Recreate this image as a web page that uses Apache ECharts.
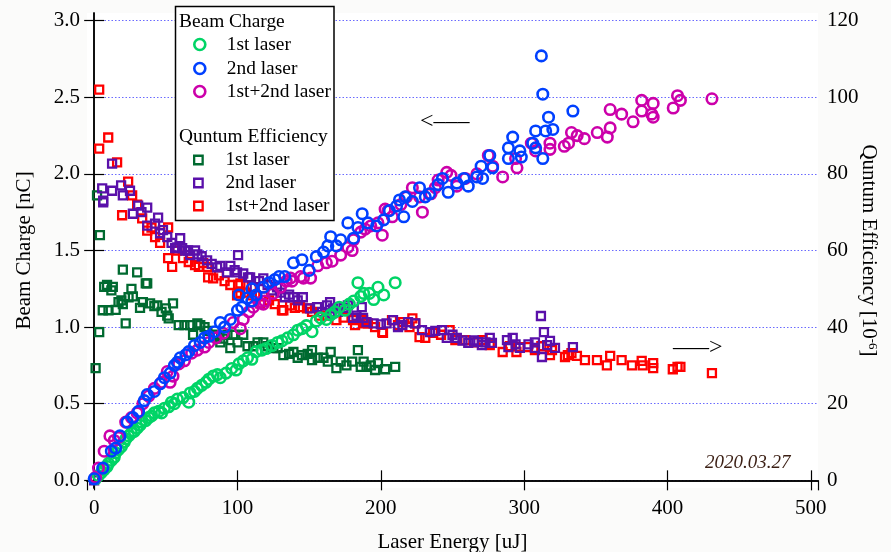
<!DOCTYPE html>
<html><head><meta charset="utf-8">
<script src="https://cdn.jsdelivr.net/npm/echarts@6/dist/echarts.min.js"></script>
<style>html,body{margin:0;padding:0;background:#fbfbfa}#c{width:891px;height:552px}</style>
</head><body><div id="c"></div>
<script>
// Beam charge [nC] vs laser energy [uJ]
const chargeLaser1 = [[1,0.01],[3,0.03],[5,0.05],[7,0.07],[9,0.09],[10,0.11],[12,0.13],[14,0.15],[15,0.18],[17,0.20],[19,0.22],[21,0.25],[22,0.27],[24,0.29],[26,0.31],[28,0.32],[30,0.34],[32,0.36],[33,0.38],[36,0.39],[38,0.41],[40,0.42],[42,0.44],[45,0.45],[47,0.44],[49,0.47],[52,0.48],[54,0.51],[56,0.50],[58,0.53],[62,0.54],[66,0.51],[67,0.57],[70,0.58],[72,0.60],[75,0.62],[78,0.64],[80,0.66],[83,0.68],[86,0.69],[88,0.67],[92,0.70],[96,0.73],[99,0.72],[101,0.76],[104,0.78],[107,0.80],[110,0.79],[113,0.84],[117,0.85],[120,0.86],[124,0.88],[128,0.90],[131,0.91],[135,0.93],[139,0.95],[142,0.98],[145,0.99],[148,1.01],[152,0.97],[155,1.04],[158,1.06],[162,1.05],[165,1.08],[168,1.10],[171,1.13],[175,1.11],[178,1.15],[181,1.17],[184,1.29],[186,1.20],[188,1.22],[192,1.22],[195,1.18],[198,1.26],[202,1.21],[210,1.29]];
const chargeLaser2 = [[0,0.01],[6,0.08],[12,0.19],[15,0.21],[18,0.29],[23,0.38],[27,0.41],[31,0.45],[35,0.52],[37,0.56],[42,0.58],[46,0.63],[49,0.67],[53,0.70],[56,0.75],[58,0.77],[60,0.80],[64,0.82],[66,0.84],[70,0.88],[74,0.90],[77,0.93],[80,0.94],[84,0.97],[88,1.03],[91,1.00],[95,1.05],[100,1.11],[101,1.21],[103,1.13],[107,1.19],[110,1.25],[110,1.17],[113,1.21],[118,1.26],[122,1.29],[126,1.31],[129,1.33],[133,1.33],[139,1.42],[145,1.44],[150,1.37],[155,1.46],[160,1.49],[163,1.53],[165,1.59],[169,1.53],[172,1.57],[177,1.68],[181,1.58],[184,1.65],[187,1.74],[191,1.68],[197,1.66],[202,1.70],[206,1.76],[211,1.79],[213,1.83],[216,1.72],[217,1.85],[222,1.82],[227,1.91],[231,1.85],[234,1.87],[240,1.93],[243,1.97],[247,1.88],[253,1.94],[258,1.97],[261,1.92],[267,1.98],[270,2.05],[271,1.97],[276,2.12],[278,2.04],[289,2.17],[289,2.10],[292,2.24],[297,2.15],[298,2.11],[306,2.20],[308,2.28],[308,2.17],[312,2.77],[313,2.52],[313,2.10],[315,2.28],[317,2.37],[320,2.29],[334,2.41]];
const chargeLaser12 = [[1,0.02],[3,0.08],[7,0.19],[11,0.29],[14,0.26],[17,0.28],[22,0.38],[26,0.41],[30,0.44],[34,0.50],[38,0.55],[42,0.60],[47,0.64],[51,0.71],[53,0.64],[55,0.68],[59,0.76],[63,0.78],[68,0.83],[72,0.85],[77,0.87],[80,0.90],[85,0.93],[90,0.96],[97,1.03],[102,0.99],[104,1.05],[108,1.10],[111,1.13],[115,1.16],[118,1.15],[119,1.17],[125,1.22],[130,1.26],[134,1.30],[137,1.32],[138,1.30],[144,1.33],[146,1.32],[151,1.32],[156,1.40],[162,1.42],[166,1.43],[172,1.47],[177,1.52],[180,1.50],[181,1.57],[186,1.62],[189,1.64],[193,1.66],[198,1.68],[201,1.60],[203,1.77],[205,1.76],[208,1.72],[214,1.80],[218,1.85],[222,1.91],[227,1.85],[229,1.75],[235,1.87],[238,1.91],[240,1.96],[246,2.01],[249,1.99],[253,1.92],[259,1.97],[267,2.00],[275,2.12],[278,2.05],[285,1.98],[294,2.10],[295,2.04],[305,2.20],[308,2.15],[318,2.20],[318,2.16],[328,2.18],[331,2.20],[333,2.27],[337,2.25],[342,2.23],[351,2.27],[358,2.24],[360,2.30],[360,2.42],[368,2.39],[376,2.34],[382,2.41],[382,2.48],[389,2.39],[390,2.46],[390,2.37],[404,2.43],[407,2.51],[409,2.48],[431,2.49]];
// Quantum efficiency [1e-6] vs laser energy [uJ]
const qeLaser1 = [[1,29.3],[2,74.4],[4,64],[3.5,38.7],[6,44.4],[7,50.5],[9,51],[10,44.4],[12,49.6],[13,50.5],[15,44.5],[17,46.5],[19,47],[20,46],[20,55],[22,41],[24,47.8],[26,50],[27,48],[30,54.3],[32,45],[34,46.5],[36,51.4],[37,51.4],[39,46.2],[42,45.5],[44,45.7],[47,44],[50,44.9],[51,43],[52,42.3],[55,46.2],[59,40.5],[63,40.5],[67,40.5],[69,38],[72,41],[74,40.5],[77,40],[79,39],[83,38],[86,37.5],[88,36],[90,37],[93,38],[95,34.5],[97,38],[100,36],[104,38],[107,35],[111,35],[114,36],[118,36],[121,35],[125,34.5],[128,34.5],[132,32.7],[136,33],[139,33.5],[142,32],[145,32.7],[149,33],[152,31.4],[152,34],[156,32],[160,32],[163,31],[165,33.5],[169,29.3],[172,31],[176,30],[180,31],[184,34],[186,29.6],[188,31],[190,29.6],[193,30],[196,28.8],[198,30.6],[203,29],[210,29.6]];
const qeLaser2 = [[0,0],[5.6,76.2],[6.3,73],[6.3,72.6],[12.5,82.7],[12.5,75.6],[18.8,77],[20,74.4],[25,75.6],[27,69.6],[30.7,71.7],[33,70],[37,71.2],[37,66.5],[42.5,67],[44.6,68.6],[46,64.5],[48,65.3],[51,63.5],[54,62],[56.5,60.6],[58,60.8],[60,63.2],[61.4,60.6],[63.5,60],[65.5,60],[67,58.8],[70.4,60],[72,59],[75,58.5],[78.8,57.4],[82,56.5],[85.8,55.6],[88,56],[92.7,54.3],[95,56],[98,54.9],[99.7,54.3],[100.4,58.8],[104,54],[107.4,53],[108.8,53],[112,50.4],[115,52],[118,52.7],[121,51],[124,49.6],[127.6,50.4],[130,49],[133,47.8],[136,48.5],[139,47.8],[142,47],[145.6,47.8],[150.6,44.9],[155.5,45.2],[159,44],[162.5,45.7],[164.6,46.5],[166,43.6],[166.7,44.9],[170,44],[174,45],[177,45.7],[180.6,42.4],[183,43],[186.7,45.2],[187.6,42.4],[190,41.3],[195,41],[200,40.7],[204,41],[208.5,41.8],[212,40],[215,40.5],[219,41.3],[224,41],[228.7,39.2],[234.3,38.7],[238,39],[242.7,39.2],[246,37.2],[250,38],[253,37.2],[257,36.5],[261,35.9],[265,36.5],[268,36.1],[270.5,35.3],[273,36],[276,37.2],[277.5,35.9],[288,36.6],[289,34.8],[292,37.2],[294,35.5],[297,34.6],[303,35.5],[307.5,36],[307.5,34.6],[311.7,42.9],[313.8,38.7],[312.4,32.2],[316,35.3],[318,36.4],[321.5,34.6],[334,34.8]];
const qeLaser12 = [[3.5,102],[3.5,86.6],[9.8,89.5],[16,83],[19.5,69.2],[23.7,78],[26.5,74.4],[30,72],[33.5,68.4],[37,65.2],[40,66],[42.5,63.5],[46,62],[51.6,66],[51.6,58],[54.4,55.7],[58,60],[62,58],[66,57],[70.4,56.2],[73,55.7],[76,56.7],[79,55.7],[79.5,53],[83,52.7],[87,53.5],[91,52],[95,51],[99.7,48.3],[100.4,51],[102,51.4],[102,48.9],[106,49],[110,48.3],[110,50.4],[115.8,46.2],[118,48],[122,47],[126,46],[131,44.4],[132,44.4],[136.7,45.7],[140,45],[143.6,45.2],[148.5,44.9],[152,44],[157,43],[162,43],[169,41.8],[174,42.5],[180.6,41.8],[182,40.5],[187.6,41.8],[189,41],[191,41],[196,40],[201,38.7],[201.5,38.5],[207.8,41.8],[212,40.5],[215.5,41.3],[220,40],[222,42.3],[224,41],[227,37.4],[231,37.2],[236.4,38.5],[242,38],[248,39.2],[252,36.6],[259,36.6],[265,36],[271,36.6],[276,35.3],[285,33.5],[290,35],[294.6,33.5],[297,34.8],[302.6,34.8],[307.5,34],[312,35],[318,32.7],[319.4,34],[328.5,32.2],[330.5,32.7],[333,33.2],[336.8,32.5],[342.4,31.4],[350.8,31.4],[357.7,30],[360,32.5],[368,31.4],[375.2,30],[382,31.2],[382.7,30],[390,30.6],[390,29.3],[403.7,29],[407,29.6],[409,29.6],[431,28]];

const legendLabels = ['1st laser', '2nd laser', '1st+2nd laser'];
const groupTitles = ['Beam Charge', 'Quntum Efficiency'];
const dateLabel = '2020.03.27';

const FONT = 'Liberation Serif';
const C = {
  c1: '#00d466', c2: '#0040ff', c12: '#cc00aa',
  q1: '#006a30', q2: '#5a10aa', q12: '#ff0000'
};
const SQUARE = 'path://M0,0L10,0L10,10L0,10Z';

function scat(name, data, yIdx, symbol, color) {
  const circ = symbol === 'circle';
  return {
    type: 'scatter', name, data, yAxisIndex: yIdx, xAxisIndex: 0,
    symbol, symbolSize: circ ? 10.5 : 8,
    itemStyle: { color: 'rgba(0,0,0,0)', borderColor: color, borderWidth: circ ? 2.6 : 2.3, opacity: 1 },
    emphasis: { disabled: true }, silent: true, z: 2
  };
}
function leg(name, label, circ, color, cy) {
  return {
    data: [{ name, icon: circ ? 'circle' : SQUARE }],
    left: 193, top: cy - (circ ? 9 : 8.5), padding: 0, orient: 'vertical',
    itemWidth: 44, itemHeight: circ ? 11 : 8.5, symbolKeepAspect: true,
    formatter: () => label, selectedMode: false, z: 6,
    textStyle: { fontFamily: FONT, fontSize: 19.4, color: '#000', lineHeight: 10 },
    itemStyle: { color: 'rgba(0,0,0,0)', borderColor: color, borderWidth: circ ? 2.6 : 2.3 }
  };
}

const axisFont = { fontFamily: FONT, fontSize: 21, color: '#000' };
const chart = echarts.init(document.getElementById('c'));
chart.setOption({
  animation: false,
  backgroundColor: '#fbfbfa',
  grid: { left: 87, right: 73, top: 13, bottom: 64, show: true, backgroundColor: '#ffffff', borderWidth: 0, containLabel: false, outerBoundsMode: 'none' },
  xAxis: [{
    type: 'value', min: -5, max: 505, splitNumber: 5, position: 'bottom',
    axisLine: { show: true, lineStyle: { color: '#000', width: 1.5 } },
    axisTick: { show: true, inside: true, length: 10, lineStyle: { color: '#000', width: 1.2 } },
    axisLabel: Object.assign({ showMinLabel: false, showMaxLabel: false, margin: 10 }, axisFont),
    splitLine: { show: false },
    name: 'Laser Energy [uJ]', nameLocation: 'middle', nameGap: 44, nameMoveOverlap: false, nameTextStyle: axisFont
  }, {
    type: 'value', min: -5, max: 505, splitNumber: 5, position: 'top',
    axisLine: { show: true, lineStyle: { color: '#000', width: 1.5 } },
    axisTick: { show: true, inside: true, length: 10, lineStyle: { color: '#000', width: 1.2 } },
    axisLabel: { show: false }, splitLine: { show: false }
  }],
  yAxis: [{
    type: 'value', min: -0.05, max: 3.05, splitNumber: 6, position: 'left',
    axisLine: { show: true, lineStyle: { color: '#000', width: 1.5 } },
    axisTick: { show: true, inside: true, length: 10, lineStyle: { color: '#000', width: 1.2 } },
    axisLabel: Object.assign({ showMinLabel: false, showMaxLabel: false, margin: 7, formatter: v => v.toFixed(1) }, axisFont),
    splitLine: { show: true, showMinLine: false, showMaxLine: false, lineStyle: { color: '#6a6aff', type: [1.5, 2], width: 1 } },
    name: 'Beam Charge [nC]', nameLocation: 'middle', nameRotate: 90, nameGap: 52, nameMoveOverlap: false, nameTextStyle: axisFont
  }, {
    type: 'value', min: -2, max: 122, splitNumber: 6, position: 'right',
    axisLine: { show: true, lineStyle: { color: '#000', width: 1.5 } },
    axisTick: { show: true, inside: true, length: 10, lineStyle: { color: '#000', width: 1.2 } },
    axisLabel: Object.assign({ showMinLabel: false, showMaxLabel: false, margin: 9, formatter: v => String(Math.round(v)) }, axisFont),
    splitLine: { show: false },
    name: 'Quntum Efficiency [10{sup|-6}]', nameLocation: 'middle', nameRotate: -90, nameGap: 40, nameMoveOverlap: false,
    nameTextStyle: Object.assign({ rich: { sup: { fontFamily: FONT, fontSize: 13, color: '#000', verticalAlign: 'top' } } }, axisFont)
  }],
  legend: [
    leg('BC1', legendLabels[0], true, C.c1, 44),
    leg('BC2', legendLabels[1], true, C.c2, 68),
    leg('BC12', legendLabels[2], true, C.c12, 91),
    leg('QE1', legendLabels[0], false, C.q1, 159),
    leg('QE2', legendLabels[1], false, C.q2, 182),
    leg('QE12', legendLabels[2], false, C.q12, 205)
  ],
  graphic: [
    { type: 'rect', z: 5, shape: { x: 175.5, y: 6.5, width: 158.5, height: 214 }, style: { fill: '#fff', stroke: '#000', lineWidth: 1.5 } },
    { type: 'text', z: 7, x: 179, y: 22, style: { text: groupTitles[0], font: '19.4px "Liberation Serif"', fill: '#000', verticalAlign: 'middle' } },
    { type: 'text', z: 7, x: 179, y: 137, style: { text: groupTitles[1], font: '19.4px "Liberation Serif"', fill: '#000', verticalAlign: 'middle' } },
    { type: 'text', z: 7, x: 420, y: 122, style: { text: '<\u2013\u2013\u2013', font: '24px "Liberation Serif"', fill: '#000', verticalAlign: 'middle', backgroundColor: '#fff' } },
    { type: 'text', z: 7, x: 673, y: 348, style: { text: '\u2013\u2013\u2013>', font: '24px "Liberation Serif"', fill: '#000', verticalAlign: 'middle' } },
    { type: 'text', z: 7, x: 705, y: 463, style: { text: dateLabel, font: 'italic 19px "Liberation Serif"', fill: '#3b1f14', verticalAlign: 'middle' } }
  ],
  series: [
    scat('QE1', qeLaser1, 1, 'rect', C.q1),
    scat('QE12', qeLaser12, 1, 'rect', C.q12),
    scat('QE2', qeLaser2, 1, 'rect', C.q2),
    scat('BC1', chargeLaser1, 0, 'circle', C.c1),
    scat('BC12', chargeLaser12, 0, 'circle', C.c12),
    scat('BC2', chargeLaser2, 0, 'circle', C.c2)
  ]
});
</script></body></html>
